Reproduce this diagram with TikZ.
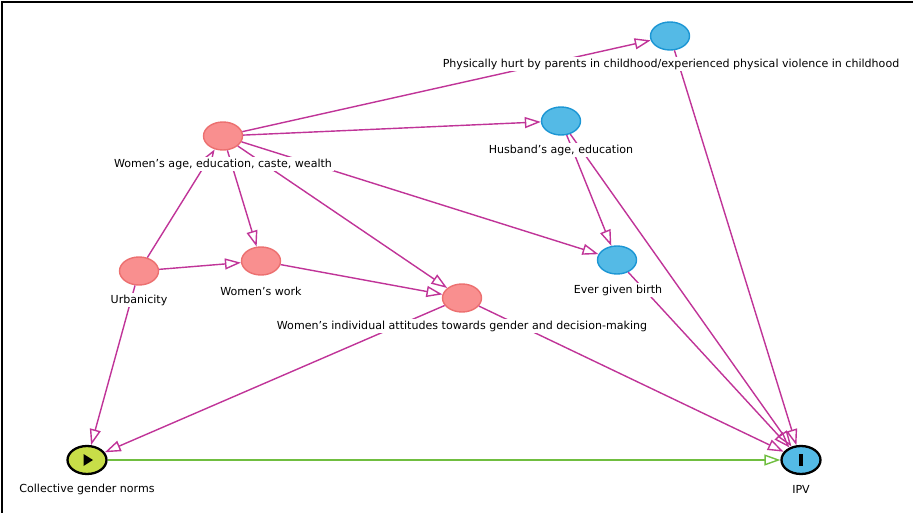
\documentclass[tikz,border=0pt]{standalone}
\usepackage{fontspec}
\setmainfont{DejaVu Sans}
\usetikzlibrary{arrows.meta,shapes.geometric}

\definecolor{adjpink}{RGB}{249,143,143}
\definecolor{adjpinkline}{RGB}{236,112,112}
\definecolor{ancblue}{RGB}{84,186,230}
\definecolor{ancblueline}{RGB}{28,150,212}
\definecolor{expyellow}{RGB}{200,222,72}
\definecolor{biasmagenta}{RGB}{192,52,152}
\definecolor{causalgreen}{RGB}{112,190,64}

\tikzset{
  var/.style={ellipse,minimum width=0.78cm,minimum height=0.56cm,inner sep=0pt,line width=0.8pt},
  adj/.style={var,fill=adjpink,draw=adjpinkline},
  anc/.style={var,fill=ancblue,draw=ancblueline},
  expo/.style={var,fill=expyellow,draw=black,line width=1.3pt},
  outc/.style={var,fill=ancblue,draw=black,line width=1.3pt},
  lab/.style={font=\fontsize{6.3}{7.5}\selectfont,fill=white,inner sep=1pt},
  edge/.style={draw=biasmagenta,line width=0.8pt,-{Triangle[open,length=3.2mm,width=2.2mm]}},
  causal/.style={edge,draw=causalgreen}
}

\begin{document}
\begin{tikzpicture}[x=0.02cm,y=-0.02cm]
\useasboundingbox (0,0) rectangle (913,513);
\draw[line width=1.2pt] (2,513) -- (2,2) -- (913,2);

% variables
\node[adj] (age) at (223,136) {};
\node[anc] (hurt) at (670,36) {};
\node[anc] (husb) at (561,121) {};
\node[anc] (birth) at (617,260) {};
\node[adj] (urban) at (139,271) {};
\node[adj] (work) at (261,261) {};
\node[adj] (att) at (462,298) {};
\node[expo] (cgn) at (87,460) {};
\node[outc] (ipv) at (801,460) {};

% markers
\fill ([shift={(-3.5,-6)}]cgn.center) -- ([shift={(-3.5,6)}]cgn.center) -- ([shift={(6,0)}]cgn.center) -- cycle;
\fill ([shift={(-1.6,-6)}]ipv.center) rectangle ([shift={(1.6,6)}]ipv.center);

% arrows
\draw[edge] (age) -- (hurt);
\draw[edge] (age) -- (husb);
\draw[edge] (age) -- (birth);
\draw[edge] (age) -- (work);
\draw[edge] (age) -- (att);
\draw[edge] (urban) -- (age);
\draw[edge] (urban) -- (work);
\draw[edge] (urban) -- (cgn);
\draw[edge] (work) -- (att);
\draw[edge] (att) -- (cgn);
\draw[edge] (att) -- (ipv);
\draw[edge] (husb) -- (birth);
\draw[edge] (husb) -- (ipv);
\draw[edge] (hurt) -- (ipv);
\draw[edge] (birth) -- (ipv);
\draw[causal] (cgn) -- (ipv);

% labels (over the arrows)
\node[lab] (agelab) at (223,164) {Women's age, education, caste, wealth};
\node[lab] (hurtlab) at (671,64) {Physically hurt by parents in childhood/experienced physical violence in childhood};
\node[lab] (husblab) at (561,150) {Husband's age, education};
\node[lab] (birthlab) at (618,290) {Ever given birth};
\node[lab] (urbanlab) at (139,300) {Urbanicity};
\node[lab] (worklab) at (261,291) {Women's work};
\node[lab] (attlab) at (462,326) {Women's individual attitudes towards gender and decision-making};
\node[lab] (cgnlab) at (87,489) {Collective gender norms};
\node[lab] (ipvlab) at (801,489) {IPV};
\end{tikzpicture}
\end{document}
